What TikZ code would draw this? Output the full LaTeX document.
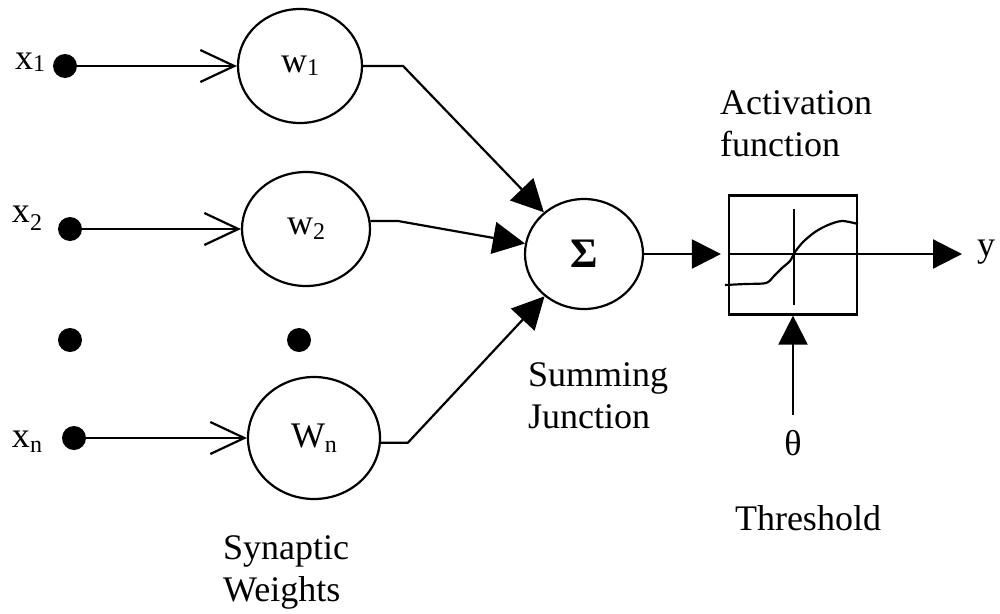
\documentclass[tikz,border=0pt]{standalone}
\usepackage{fontspec}
\setmainfont{Liberation Serif}
\usetikzlibrary{arrows.meta,shapes.geometric}
\newcommand{\sbs}[2][-5pt]{\raisebox{#1}{\fontsize{24}{24}\selectfont #2}}
\begin{document}
\begin{tikzpicture}[x=1pt,y=-1pt,
  every node/.style={font=\fontsize{36}{42}\selectfont},
  lw/.style={line width=2.2pt},
  dotnode/.style={circle,fill=black,minimum size=24pt,inner sep=0pt},
  wnode/.style={ellipse,draw,line width=2.2pt,inner sep=0pt},
  inarrow/.style={line width=2.2pt,-{Straight Barb[length=34pt,width=32pt,line width=2.2pt]}},
  farrow/.style={line width=2.2pt,-{Triangle[length=32pt,width=32pt]}},
  oarrow/.style={line width=2.2pt,-{Triangle[length=29pt,width=29pt]}},
  lbl/.style={align=left,inner sep=0pt}
]
\useasboundingbox (0,0) rectangle (1000,613);

% input dots
\node[dotnode] (d1) at (65,66) {};
\node[dotnode] (d2) at (70,229) {};
\node[dotnode] (dm1) at (70,340) {};
\node[dotnode] (dm2) at (299,340) {};
\node[dotnode] (dn) at (74,438) {};

% input labels
\node (x1) at (30,62) {x\sbs[-2pt]{1}};
\node (x2) at (27,218) {x\sbs[-8pt]{2}};
\node (xn) at (27,442) {x\sbs{n}};

% weights
\node[wnode,minimum width=124pt,minimum height=114pt] (w1) at (300,66) {w\sbs[-3pt]{1}\hspace{8pt}};
\node[wnode,minimum width=128pt,minimum height=114pt] (w2) at (306,229) {w\sbs{2}\hspace{8pt}};
\node[wnode,minimum width=132pt,minimum height=122pt] (wn) at (314,438) {W\sbs{n}\hspace{4pt}};

% summing junction
\node[wnode,minimum width=118pt,minimum height=110pt] (sig) at (584,254) {\fontsize{42}{42}\selectfont\bfseries Σ\hspace{18pt}};

% activation box
\node[draw,line width=2.2pt,minimum width=128pt,minimum height=119pt,inner sep=0pt] (act) at (793,255) {};
\draw[lw] (729,254) -- (857,254);
\draw[lw] (794,209) -- (794,305);
\draw[lw] plot[smooth,tension=0.5] coordinates {(725,285) (745,284) (766,283) (774,276) (782,268) (790,261) (795,252) (803,242) (815,232) (828,225) (842,221) (858,224)};

% connectors
\draw[inarrow] (d1) -- (w1);
\draw[inarrow] (d2) -- (w2);
\draw[inarrow] (dn) -- (wn);
\draw[farrow] (w1.east) -- ++(40,0) -- (sig);
\draw[farrow] (w2.7) -- ++(28,0) -- (sig);
\draw[farrow] (wn.-4) -- ++(27,0) -- (sig);
\draw[oarrow,shorten >=7pt] (sig.east) -- (act.west |- sig.east);
\coordinate (yend) at (962,254);
\draw[oarrow] (act.east |- yend) -- (yend);
\node (ylab) at (986,252) {y};
\node (th) at (793,443) {θ};
\draw[oarrow,shorten <=12pt] (th.north) -- (act.south);

% labels
\node[lbl,anchor=west] (sj) at (528,396) {Summing\\Junction};
\node[lbl,anchor=west] (af) at (720,124) {Activation\\function};
\node[lbl,anchor=west] (sw) at (223,572) {Synaptic\\Weights};
\node (thr) at (808,518) {Threshold};
\end{tikzpicture}
\end{document}
